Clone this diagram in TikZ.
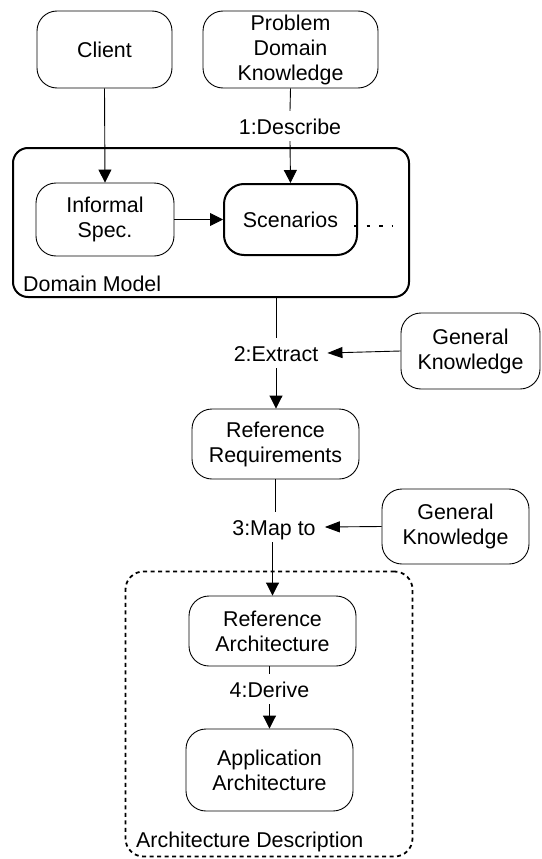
\documentclass[tikz,border=0pt]{standalone}
\usepackage{fontspec}
\setmainfont{Liberation Sans}
\usetikzlibrary{arrows.meta}
\begin{document}
\begin{tikzpicture}[x=1pt,y=-1pt,
  font=\fontsize{21.4}{25}\selectfont,
  box/.style={draw, rounded corners=20pt, line width=0.9pt, align=center, inner sep=0pt},
  lbl/.style={inner xsep=9pt, inner ysep=6pt, text height=17pt, text depth=1pt},
  arr/.style={-{Triangle[length=13pt,width=13pt]}, line width=0.9pt},
  garr/.style={-{Triangle[length=15pt,width=11pt]}, line width=0.9pt},
  ln/.style={line width=0.9pt}
]
\useasboundingbox (0,0) rectangle (541,859);
% containers
\node[draw, rounded corners=15pt, line width=2pt, minimum width=396pt, minimum height=149pt, inner sep=0pt] (dm) at (211,222.5) {};
\node[draw, dash pattern=on 4pt off 3.5pt, line width=1.8pt, rounded corners=18pt, minimum width=287pt, minimum height=285pt, inner sep=0pt] (ad) at (269,714) {};
% boxes
\node[box, minimum width=135pt, minimum height=77pt] (client) at (104.5,49.5) {Client};
\node[box, minimum width=175pt, minimum height=77pt] (pdk) at (290.5,49.5) {Problem\\Domain\\Knowledge};
\node[box, minimum width=138pt, minimum height=73pt] (inf) at (105,219.5) {Informal\\Spec.};
\node[box, line width=2pt, minimum width=133pt, minimum height=71pt] (scen) at (290.5,219.5) {Scenarios};
\node[box, minimum width=139pt, minimum height=76pt] (gk1) at (470.5,351) {General\\Knowledge};
\node[box, minimum width=167pt, minimum height=70pt] (rr) at (275.5,444) {Reference\\Requirements};
\node[box, minimum width=147pt, minimum height=75pt] (gk2) at (455.5,526.5) {General\\Knowledge};
\node[box, minimum width=167pt, minimum height=70pt] (ra) at (272.5,631) {Reference\\Architecture};
\node[box, minimum width=167pt, minimum height=82pt] (aa) at (269.5,770) {Application\\Architecture};
% labels
\node[lbl] (desc) at (290,126) {1:Describe};
\node[lbl] (extr) at (276,353) {2:Extract};
\node[lbl] (map) at (274,527) {3:Map to};
\node[lbl] (der) at (269.5,689) {4:Derive};
\node[anchor=base west, inner sep=0pt] (dmlabel) at (23,291) {Domain Model};
\node[anchor=base west, inner sep=0pt] (adlabel) at (136,847) {Architecture Description};
% connectors
\draw[arr] (client.south) -- (inf.north);
\draw[arr] (inf.east) -- (scen.west);
\draw[ln] (pdk.south) -- (desc.north);
\draw[arr] (desc.south) -- (scen.north);
\draw[ln] (dm.south -| extr) -- (extr.north);
\draw[arr] (extr.south) -- (rr.north -| extr);
\draw[garr] (gk1.west) -- (extr.east);
\draw[ln] (rr.south) -- (map.north -| rr);
\draw[arr] (map.south -| ra) -- (ra.north);
\draw[garr] (gk2.west) -- (map.east);
\draw[ln] (ra.south -| der) -- (der.north);
\draw[arr] (der.south) -- (aa.north);
\coordinate (dotend) at (393,226);
\draw[line width=2.4pt, dash pattern=on 3.5pt off 9pt] ([xshift=-4pt,yshift=-6.5pt]scen.east) -- (dotend);
\end{tikzpicture}
\end{document}
